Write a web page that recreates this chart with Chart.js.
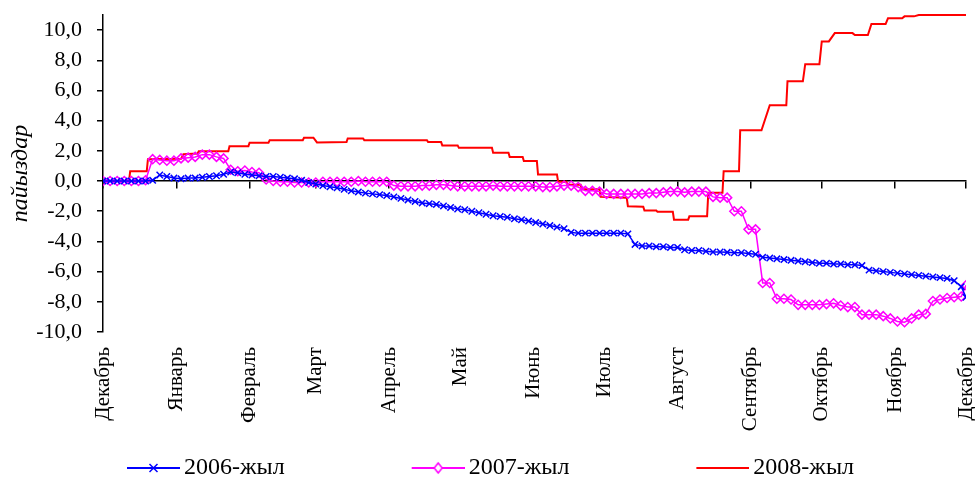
<!DOCTYPE html>
<html>
<head>
<meta charset="utf-8">
<script src="https://cdn.jsdelivr.net/npm/chart.js@4.4.1/dist/chart.umd.min.js"></script>
<style>
  body { margin: 0; background: #fff; }
</style>
</head>
<body>
<canvas id="chart" width="975" height="484"></canvas>
<script>
// month ticks, counted in days from 1 December
const monthDays = [0, 31, 62, 90, 121, 151, 182, 212, 243, 274, 304, 335, 365];
const monthLabels = ["Декабрь", "Январь", "Февраль", "Март", "Апрель", "Май", "Июнь",
                     "Июль", "Август", "Сентябрь", "Октябрь", "Ноябрь", "Декабрь"];

const seriesNames = ["2006-жыл", "2007-жыл", "2008-жыл"];

const days = [
    0, 3, 6, 9, 12, 15, 18, 21, 24, 27, 30, 33,
    36, 39, 42, 45, 48, 51, 54, 57, 60, 63, 66, 69,
    72, 75, 78, 81, 84, 87, 90, 93, 96, 99, 102, 105,
    108, 111, 114, 117, 120, 123, 126, 129, 132, 135, 138, 141,
    144, 147, 150, 153, 156, 159, 162, 165, 168, 171, 174, 177,
    180, 183, 186, 189, 192, 195, 198, 201, 204, 207, 210, 213,
    216, 219, 222, 225, 228, 231, 234, 237, 240, 243, 246, 249,
    252, 255, 258, 261, 264, 267, 270, 273, 276, 279, 282, 285,
    288, 291, 294, 297, 300, 303, 306, 309, 312, 315, 318, 321,
    324, 327, 330, 333, 336, 339, 342, 345, 348, 351, 354, 357,
    360, 363, 365
];

const values2006 = [
    0, 0, 0, 0, 0, 0, 0, 0.05, 0.4, 0.3, 0.2, 0.15,
    0.2, 0.2, 0.25, 0.3, 0.35, 0.45, 0.6, 0.55, 0.45, 0.4, 0.35, 0.3,
    0.3, 0.25, 0.2, 0.15, 0.05, -0.1, -0.2, -0.3, -0.38, -0.45, -0.55, -0.65,
    -0.72, -0.8, -0.85, -0.9, -0.96, -1.05, -1.15, -1.25, -1.35, -1.45, -1.5, -1.55,
    -1.65, -1.75, -1.85, -1.9, -2.0, -2.1, -2.2, -2.3, -2.35, -2.4, -2.5, -2.56,
    -2.65, -2.75, -2.85, -2.95, -3.05, -3.15, -3.4, -3.45, -3.45, -3.45, -3.45, -3.45,
    -3.45, -3.45, -3.5, -4.2, -4.3, -4.3, -4.35, -4.35, -4.4, -4.4, -4.55, -4.6,
    -4.6, -4.65, -4.7, -4.7, -4.72, -4.75, -4.75, -4.8, -4.85, -5.05, -5.1, -5.15,
    -5.2, -5.25, -5.3, -5.35, -5.4, -5.45, -5.45, -5.5, -5.5, -5.55, -5.55, -5.6,
    -5.9, -5.95, -6.0, -6.05, -6.1, -6.15, -6.2, -6.25, -6.3, -6.35, -6.4, -6.45,
    -6.6, -7.0, -7.7
];

const values2007 = [
    0, 0, 0, 0, 0, 0, 0.05, 1.45, 1.4, 1.35, 1.35, 1.5,
    1.55, 1.6, 1.75, 1.75, 1.6, 1.5, 0.75, 0.65, 0.7, 0.6, 0.55, 0.1,
    0.0, -0.05, -0.05, -0.1, -0.1, -0.1, -0.1, -0.05, -0.05, -0.05, -0.05, -0.05,
    0.0, -0.05, -0.05, -0.05, -0.05, -0.3, -0.35, -0.35, -0.35, -0.3, -0.3, -0.25,
    -0.25, -0.3, -0.35, -0.35, -0.35, -0.35, -0.35, -0.3, -0.35, -0.35, -0.35, -0.35,
    -0.35, -0.35, -0.4, -0.4, -0.35, -0.3, -0.3, -0.4, -0.65, -0.65, -0.7, -0.85,
    -0.85, -0.85, -0.85, -0.85, -0.85, -0.8, -0.8, -0.75, -0.7, -0.7, -0.75, -0.7,
    -0.7, -0.7, -1.05, -1.1, -1.1, -2.0, -2.0, -3.2, -3.2, -6.75, -6.75, -7.8,
    -7.8, -7.85, -8.2, -8.2, -8.2, -8.2, -8.15, -8.1, -8.25, -8.35, -8.35, -8.85,
    -8.85, -8.85, -8.95, -9.1, -9.3, -9.35, -9.1, -8.85, -8.8, -7.95, -7.85, -7.75,
    -7.7, -7.65, -6.9
];

// 2008 moves in steps, so it keeps its own day list
const days2008 = [
    0, 11, 11.5, 18.5, 19, 33, 34, 40, 40.5, 53,
    53.5, 61.5, 62, 70, 70.5, 84.5, 85, 89, 90.5, 103,
    103.5, 110, 110.5, 137, 137.5, 143, 143.5, 150, 150.5, 164.5,
    165, 171.5, 172, 177.5, 178, 183.5, 184, 192, 192.5, 196,
    196.5, 202, 202.5, 210, 210.5, 221.5, 222, 228.5, 229, 234,
    234.5, 241, 241.5, 247.5, 248, 255.5, 256, 262, 262.5, 269,
    269.5, 278.5, 282, 289, 289.5, 296, 297, 303, 304, 307,
    309.5, 317, 318, 323.5, 325, 331, 332, 338, 339, 343,
    345, 365
];
const values2008 = [
    0, 0, 0.65, 0.65, 1.45, 1.47, 1.78, 1.83, 1.98, 1.98,
    2.3, 2.31, 2.54, 2.54, 2.71, 2.71, 2.87, 2.87, 2.56, 2.58,
    2.82, 2.82, 2.71, 2.71, 2.58, 2.58, 2.36, 2.36, 2.2, 2.2,
    1.87, 1.87, 1.6, 1.6, 1.32, 1.32, 0.43, 0.43, -0.05, -0.05,
    -0.25, -0.25, -0.55, -0.55, -1.05, -1.1, -1.67, -1.7, -1.95, -1.95,
    -2.03, -2.03, -2.56, -2.56, -2.34, -2.34, -0.78, -0.78, 0.65, 0.65,
    3.36, 3.36, 5.02, 5.02, 6.61, 6.61, 7.74, 7.74, 9.25, 9.25,
    9.8, 9.8, 9.67, 9.67, 10.4, 10.4, 10.78, 10.78, 10.91, 10.91,
    11.0, 11.0
];

const BLUE = "#0000FF", MAGENTA = "#FF00FF", RED = "#FF0000";
const FAMILY = "'Liberation Serif', 'Times New Roman', serif";
const LEGEND_BOX = 162;

// legend symbol: a short line with the series marker, drawn at the right end of the box
function legendSymbol(color, marker) {
    const c = document.createElement("canvas");
    c.width = LEGEND_BOX + 16;
    c.height = 14;
    const g = c.getContext("2d");
    const x0 = c.width - 53, xm = c.width - 26.5, y = 7;
    g.strokeStyle = color;
    g.lineWidth = 2;
    g.beginPath();
    g.moveTo(x0, y);
    g.lineTo(c.width, y);
    g.stroke();
    g.lineWidth = 1.5;
    if (marker === "cross") {
        g.beginPath();
        g.moveTo(xm - 4, y - 4); g.lineTo(xm + 4, y + 4);
        g.moveTo(xm - 4, y + 4); g.lineTo(xm + 4, y - 4);
        g.stroke();
    } else if (marker === "diamond") {
        g.fillStyle = "#fff";
        g.beginPath();
        g.moveTo(xm, y - 5); g.lineTo(xm + 4, y); g.lineTo(xm, y + 5); g.lineTo(xm - 4, y);
        g.closePath();
        g.fill();
        g.stroke();
    }
    return c;
}
const legendIcons = [legendSymbol(BLUE, "cross"), legendSymbol(MAGENTA, "diamond"), legendSymbol(RED, null)];

const toPoints = (xs, ys) => xs.map((d, i) => ({ x: d, y: ys[i] }));
const setMonthTicks = scale => { scale.ticks = monthDays.map(v => ({ value: v })); };

// legend sits a little lower than Chart.js puts it
const legendNudge = {
    id: "legendNudge",
    afterLayout(chart) {
        chart.legend.top += 6;
        chart.legend.bottom += 6;
    }
};

new Chart(document.getElementById("chart"), {
    type: "line",
    data: {
        datasets: [{
            label: seriesNames[0],
            data: toPoints(days, values2006),
            xAxisID: "x",
            borderColor: BLUE,
            borderWidth: 1.5,
            pointStyle: "crossRot",
            pointRadius: 4.5,
            pointBorderWidth: 1.5,
            pointBorderColor: BLUE,
            pointBackgroundColor: BLUE
        }, {
            label: seriesNames[1],
            data: toPoints(days, values2007),
            xAxisID: "x",
            borderColor: MAGENTA,
            borderWidth: 1.5,
            pointStyle: "rectRot",
            pointRadius: 4.5,
            pointBorderWidth: 1.5,
            pointBorderColor: MAGENTA,
            pointBackgroundColor: "rgba(255,255,255,0)"
        }, {
            label: seriesNames[2],
            data: toPoints(days2008, values2008),
            xAxisID: "x",
            borderColor: RED,
            borderWidth: 2,
            pointRadius: 0,
            clip: 4
        }]
    },
    plugins: [legendNudge],
    options: {
        responsive: false,
        animation: false,
        events: [],
        layout: { padding: { top: 15, right: 9, left: 0, bottom: 0 } },
        plugins: {
            tooltip: { enabled: false },
            legend: {
                position: "bottom",
                align: "start",
                labels: {
                    usePointStyle: true,
                    pointStyleWidth: LEGEND_BOX,
                    padding: 10,
                    color: "#000",
                    font: { family: FAMILY, size: 24 },
                    generateLabels: () => seriesNames.map((name, i) => ({
                        text: name,
                        pointStyle: legendIcons[i],
                        fillStyle: "transparent",
                        strokeStyle: "transparent",
                        lineWidth: 0,
                        datasetIndex: i
                    }))
                }
            }
        },
        scales: {
            x: {
                type: "linear",
                position: "bottom",
                min: 0,
                max: 365,
                grid: { display: false, drawTicks: false },
                border: { display: false },
                afterBuildTicks: setMonthTicks,
                ticks: {
                    autoSkip: false,
                    minRotation: 90,
                    maxRotation: 90,
                    padding: 15,
                    color: "#000",
                    font: { family: FAMILY, size: 21 },
                    callback: (v, i) => monthLabels[i]
                },
                afterFit: s => { s.height = 108; s.paddingLeft = 0; s.paddingRight = 0; }
            },
            xz: {
                type: "linear",
                position: { y: 0 },
                min: 0,
                max: 365,
                afterBuildTicks: setMonthTicks,
                grid: { drawOnChartArea: false, tickLength: 7, color: "#000", lineWidth: 1.5 },
                border: { color: "#000", width: 1.5 },
                ticks: { display: false },
                afterFit: s => { s.paddingLeft = 0; s.paddingRight = 0; }
            },
            y: {
                min: -10,
                max: 11,
                grid: { drawOnChartArea: false, tickLength: 6, color: "#000", lineWidth: 1.5 },
                border: { color: "#000", width: 1.5 },
                ticks: {
                    stepSize: 2,
                    includeBounds: false,
                    padding: 15,
                    color: "#000",
                    font: { family: FAMILY, size: 22 },
                    callback: v => v.toFixed(1).replace(".", ",")
                },
                title: {
                    display: true,
                    text: "пайыздар",
                    color: "#000",
                    font: { family: FAMILY, size: 24, style: "italic" },
                    padding: { top: 6, bottom: 0 }
                },
                afterFit: s => { s.width = 103; s.paddingTop = 0; s.paddingBottom = 0; }
            }
        }
    }
});
</script>
</body>
</html>
